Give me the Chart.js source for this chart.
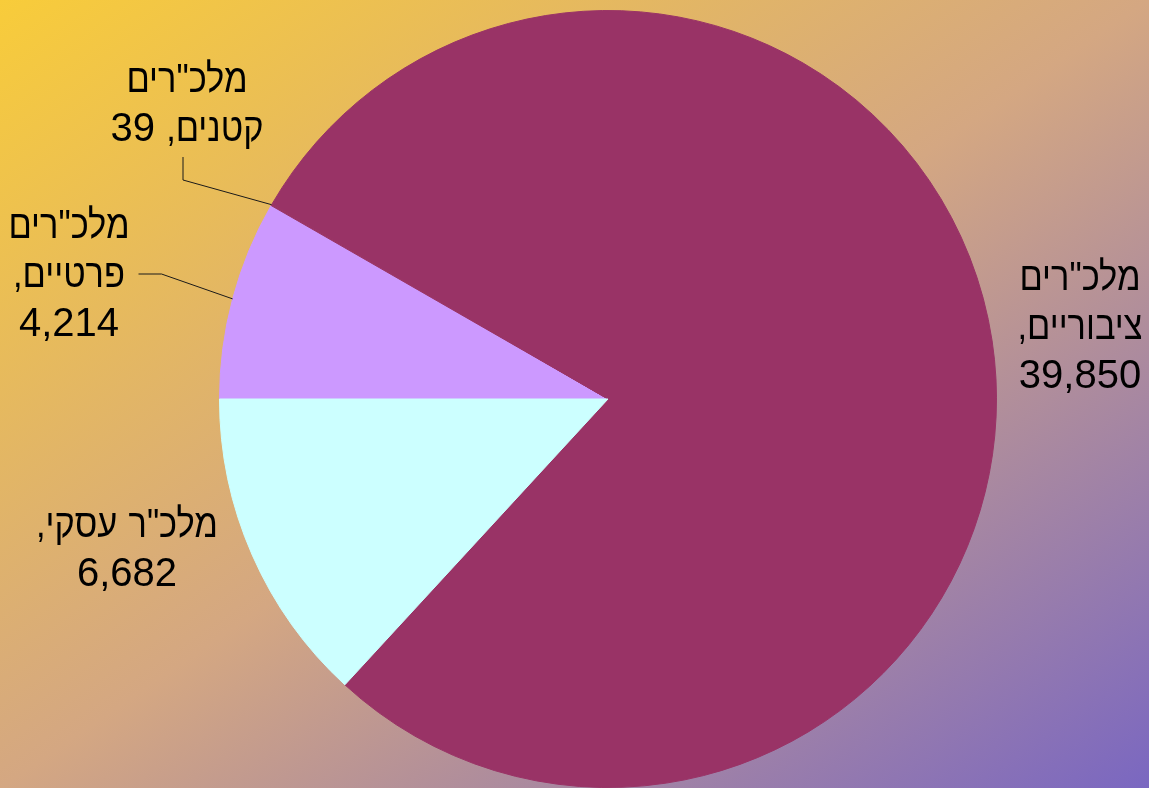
<!DOCTYPE html>
<html lang="he">
<head>
<meta charset="utf-8">
<title>מלכ"רים</title>
<script src="https://cdn.jsdelivr.net/npm/chart.js@4.4.1/dist/chart.umd.min.js"></script>
<style>
  html, body { margin: 0; padding: 0; width: 1149px; height: 788px; overflow: hidden; }
  body { background: linear-gradient(to bottom right, #f8cc3a 0%, #d4a782 50%, #7a67c1 100%); }
  #wrap { position: relative; width: 1149px; height: 788px; }
</style>
</head>
<body>
<div id="wrap"><canvas id="chartMalkarim"></canvas></div>
<script>
/* ────────────────────────────────────────────────────────────
   DATOS
   ──────────────────────────────────────────────────────────── */
const categorias = ['מלכ"רים פרטיים', 'מלכ"רים קטנים', 'מלכ"רים ציבוריים', 'מלכ"ר עסקי'];
const valores = [4214, 39, 39850, 6682];
const colores = ['#cc99ff', '#993366', '#993366', '#ccffff'];

/* posición de cada etiqueta respecto al centro del pastel */
const etiquetas = [
  { dx: -539, dy: -126, ancho: 140, guia: 'derecha' },
  { dx: -421, dy: -297, ancho: 170, guia: 'abajo' },
  { dx: 472, dy: -74, ancho: 140, guia: null },
  { dx: -481, dy: 148, ancho: 200, guia: null },
];

const FUENTE = '40px "Liberation Sans", Arial, sans-serif';
const INTERLINEA = 49;
const ESCALA_HEB = 0.86;   // el hebreo de Liberation sale más ancho que en el original
const esHebreo = s => /[\u0590-\u05FF]/.test(s);

/* ────────────────────────────────────────────────────────────
   MEDIDAS Y LÍNEAS
   ──────────────────────────────────────────────────────────── */
function anchoPalabra(ctx, p) {
  return ctx.measureText(p).width * (esHebreo(p) ? ESCALA_HEB : 1);
}

function anchoLinea(ctx, palabras) {
  const esp = ctx.measureText(' ').width;
  return palabras.reduce((s, p) => s + anchoPalabra(ctx, p), 0) + esp * (palabras.length - 1);
}

function partirLineas(ctx, texto, ancho) {
  const lineas = [];
  let actual = [];
  texto.split(' ').forEach(p => {
    const prueba = actual.concat(p);
    if (actual.length && anchoLinea(ctx, prueba) > ancho) {
      lineas.push(actual);
      actual = [p];
    } else {
      actual = prueba;
    }
  });
  if (actual.length) lineas.push(actual);
  return lineas;
}

/* dibuja una línea de derecha a izquierda, palabra por palabra */
function dibujarLinea(ctx, palabras, cx, y) {
  const esp = ctx.measureText(' ').width;
  let x = cx + anchoLinea(ctx, palabras) / 2;
  palabras.forEach(p => {
    const s = esHebreo(p) ? ESCALA_HEB : 1;
    ctx.save();
    ctx.translate(x, y);
    ctx.scale(s, 1);
    ctx.fillText(p, 0, 0);
    ctx.restore();
    x -= anchoPalabra(ctx, p) + esp;
  });
}

/* ────────────────────────────────────────────────────────────
   PLUGIN DE ETIQUETAS CON LÍNEAS GUÍA
   ──────────────────────────────────────────────────────────── */
const pluginEtiquetas = {
  id: 'etiquetas',
  afterDatasetsDraw(chart) {
    const ctx = chart.ctx;
    const arcos = chart.getDatasetMeta(0).data;
    ctx.save();
    ctx.font = FUENTE;
    ctx.fillStyle = '#000';
    ctx.direction = 'rtl';
    ctx.textAlign = 'right';
    ctx.textBaseline = 'alphabetic';

    arcos.forEach((arco, i) => {
      const p = arco.getProps(['x', 'y', 'startAngle', 'endAngle', 'outerRadius'], true);
      const conf = etiquetas[i];
      const texto = `${categorias[i]}, ${valores[i].toLocaleString('en-US')}`;
      const lineas = partirLineas(ctx, texto, conf.ancho);
      const cx = p.x + conf.dx;
      const cy = p.y + conf.dy;
      const primera = cy - (lineas.length - 1) * INTERLINEA / 2 + 14;

      lineas.forEach((l, k) => dibujarLinea(ctx, l, cx, primera + k * INTERLINEA));

      if (conf.guia) {
        const medio = (p.startAngle + p.endAngle) / 2;
        const px = p.x + Math.cos(medio) * p.outerRadius;
        const py = p.y + Math.sin(medio) * p.outerRadius;
        const anchoMax = Math.max(...lineas.map(l => anchoLinea(ctx, l)));
        let sx, sy, ex, ey;
        if (conf.guia === 'derecha') {
          sx = cx + anchoMax / 2 + 9; sy = cy + 1;
          ex = sx + 23; ey = sy;
        } else {
          sx = cx - 4; sy = cy + lineas.length * INTERLINEA / 2 + 6;
          ex = sx; ey = sy + 23;
        }
        ctx.beginPath();
        ctx.moveTo(sx, sy);
        ctx.lineTo(ex, ey);
        ctx.lineTo(px, py);
        ctx.strokeStyle = '#1a1a1a';
        ctx.lineWidth = 1;
        ctx.stroke();
      }
    });
    ctx.restore();
  },
};

/* ────────────────────────────────────────────────────────────
   GRÁFICA
   ──────────────────────────────────────────────────────────── */
const ctxPastel = document.getElementById('chartMalkarim').getContext('2d');

new Chart(ctxPastel, {
  type: 'pie',
  data: {
    labels: categorias,
    datasets: [{
      data: valores,
      backgroundColor: colores,
      borderColor: colores,   // tapa las juntas entre porciones
      borderWidth: 1,
    }],
  },
  options: {
    responsive: true,
    maintainAspectRatio: false,
    devicePixelRatio: 1,
    animation: false,
    rotation: 270,
    layout: { padding: { top: 10, left: 67, right: 0, bottom: 0 } },
    plugins: {
      legend: { display: false },
      tooltip: { enabled: false },
    },
  },
  plugins: [pluginEtiquetas],
});
</script>
</body>
</html>
